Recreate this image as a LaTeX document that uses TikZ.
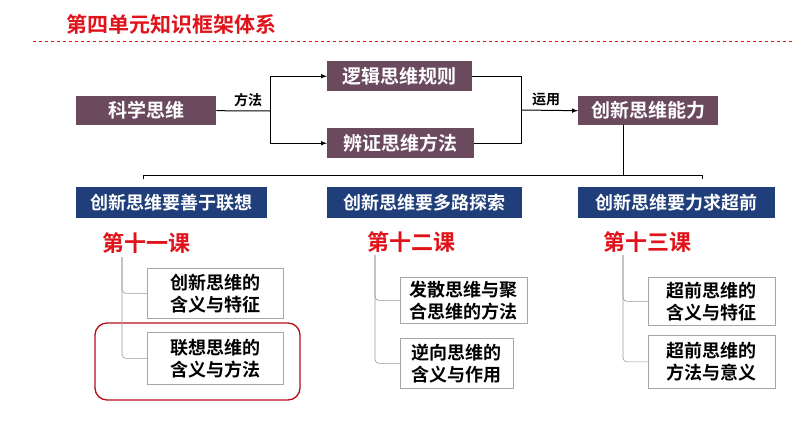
\documentclass[tikz,border=0pt]{standalone}
\usepackage{fontspec}
\newfontfamily\cjk{Noto Sans CJK SC Bold}
\definecolor{pur}{HTML}{6B4A5E}
\definecolor{blu}{HTML}{1F3E7A}
\definecolor{rd}{HTML}{E0121A}
\begin{document}
\begin{tikzpicture}[x=1pt,y=-1pt,font=\cjk,
 pbox/.style={fill=pur,text=white,font=\cjk\fontsize{19}{20}\selectfont,anchor=north west,inner sep=0pt},
 bbox/.style={fill=blu,text=white,font=\cjk\fontsize{18}{20}\selectfont,anchor=north west,inner sep=0pt},
 sbox/.style={draw=gray!70,line width=0.8pt,fill=white,font=\cjk\fontsize{18}{22}\selectfont,align=center,anchor=north west,inner sep=0pt},
 lesson/.style={text=rd,font=\cjk\fontsize{22}{24}\selectfont},
 conn/.style={line width=1pt},
 tree/.style={draw=gray!80,line width=0.6pt,rounded corners=4pt},
 lab/.style={font=\cjk\fontsize{14}{15}\selectfont}]
\useasboundingbox (0,0) rectangle (794,447);
\node[text=rd,font=\cjk\fontsize{21}{22}\selectfont,anchor=west] (title) at (63,24) {第四单元知识框架体系};
\draw[rd,dashed,line width=0.6pt] (33,41) -- (794,41);
\node[pbox,minimum width=140,minimum height=29] (sci) at (76,96) {科学思维};
\node[pbox,minimum width=145,minimum height=30] (log) at (327,61) {逻辑思维规则};
\node[pbox,minimum width=147,minimum height=30] (dia) at (327,128) {辨证思维方法};
\node[pbox,minimum width=140,minimum height=29] (cre) at (578,96) {创新思维能力};
\coordinate (j1) at (270,111);
\draw[conn] (sci.east) -- (j1);
\draw[conn,-latex] (j1) |- (log.west);
\draw[conn,-latex] (j1) |- (dia.west);
\node[lab,anchor=south] (ff) at (248,110) {方法};
\coordinate (j2) at (521,110);
\draw[conn] (log.east) -| (j2);
\draw[conn] (dia.east) -| (j2);
\draw[conn,-latex] (j2) -- (cre.west);
\node[lab,anchor=south] (yy) at (546,109) {运用};
\node[bbox,minimum width=191,minimum height=31] (b1) at (76,187) {创新思维要善于联想};
\node[bbox,minimum width=195,minimum height=31] (b2) at (327,187) {创新思维要多路探索};
\node[bbox,minimum width=197,minimum height=31] (b3) at (578,187) {创新思维要力求超前};
\coordinate (h) at (623,175);
\draw[conn] (cre.south -| h) -- (h);
\draw[conn] (143,179) -- (143,175) -- (702,175) -- (702,179);
\node[lesson] (l1) at (146,243) {第十一课};
\node[lesson] (l2) at (411,242) {第十二课};
\node[lesson] (l3) at (647,242) {第十三课};
\node[sbox,minimum width=136,minimum height=50] (s11) at (147,268) {创新思维的\\含义与特征};
\node[sbox,minimum width=136,minimum height=52] (s12) at (147,332) {联想思维的\\含义与方法};
\draw[rd!80!black,line width=1.3pt,rounded corners=12pt] (95,323) rectangle (300,400);
\node[sbox,minimum width=127,minimum height=46] (s21) at (400,277) {发散思维与聚\\合思维的方法};
\node[sbox,minimum width=113,minimum height=50] (s22) at (400,338) {逆向思维的\\含义与作用};
\node[sbox,minimum width=127,minimum height=48] (s31) at (648,277) {超前思维的\\含义与特征};
\node[sbox,minimum width=127,minimum height=53] (s32) at (648,335) {超前思维的\\方法与意义};
\draw[tree] (122,257) |- (s11.west);
\draw[tree] (122,257) |- (s12.west);
\draw[tree] (375,255) |- (s21.west);
\draw[tree] (375,255) |- (s22.west);
\draw[tree] (623,255) |- (s31.west);
\draw[tree] (623,255) |- (s32.west);
\end{tikzpicture}
\end{document}
